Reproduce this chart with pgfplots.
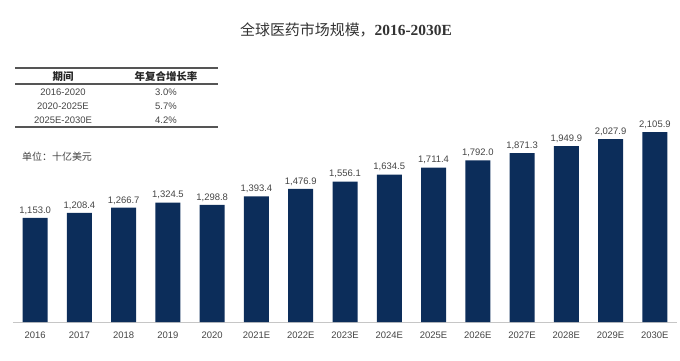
\documentclass[border=0pt]{standalone}
\usepackage{pgfplots}
\pgfplotsset{compat=1.18}
\usepackage{fontspec}
\setmainfont{Liberation Sans}
\newfontfamily\cjk{Noto Sans CJK SC}
\newfontfamily\serif{Liberation Serif}
\definecolor{barblue}{HTML}{0C2D5A}
\definecolor{labelgray}{HTML}{444444}
\definecolor{rulegray}{HTML}{555555}
\begin{document}
\begin{tikzpicture}
\useasboundingbox (-13bp,-39bp) rectangle (667bp,322bp);
\begin{axis}[
  at={(0,0)}, anchor=south west,
  scale only axis, width=664bp, height=216.5bp,
  xmin=-0.5, xmax=14.5, ymin=0, ymax=2400,
  hide y axis,
  axis x line*=bottom,
  x axis line style={color=gray!45, line width=0.8bp, -},
  xtick=data,
  xticklabels={2016,2017,2018,2019,2020,2021E,2022E,2023E,2024E,2025E,2026E,2027E,2028E,2029E,2030E},
  major tick length=0pt,
  x tick label style={font=\fontsize{9.5}{11}\selectfont, color=labelgray, yshift=-6bp},
  ytick=\empty,
  ybar, bar width=25bp, bar shift=0pt,
  nodes near coords={\pgfmathprintnumber[fixed,fixed zerofill,precision=1,1000 sep={,},assume math mode=true]{\pgfplotspointmeta}},
  every node near coord/.append style={font=\fontsize{9.5}{11}\selectfont, color=labelgray},
  clip=false,
]
\addplot[fill=barblue, draw=none] coordinates {
(0,1153.0) (1,1208.4) (2,1266.7) (3,1324.5) (4,1298.8) (5,1393.4) (6,1476.9) (7,1556.1)
(8,1634.5) (9,1711.4) (10,1792.0) (11,1871.3) (12,1949.9) (13,2027.9) (14,2105.9)};
\end{axis}
% title
\node[color=black!80] at (333bp,292bp) {{\cjk\fontsize{15}{17}\selectfont 全球医药市场规模，}{\serif\bfseries\fontsize{15.5}{17}\selectfont 2016-2030E}};
% table
\draw[rulegray, line width=1.3bp] (2bp,254bp) -- (205bp,254bp);
\draw[rulegray, line width=1.3bp] (2bp,238bp) -- (205bp,238bp);
\draw[rulegray, line width=1.3bp] (2bp,195bp) -- (205bp,195bp);
\node[color=black!85] at (50bp,245.5bp) {\cjk\bfseries\fontsize{10.5}{12}\selectfont 期间};
\node[color=black!85] at (153bp,245.5bp) {\cjk\bfseries\fontsize{10.5}{12}\selectfont 年复合增长率};
\begin{scope}[every node/.style={color=labelgray, font=\fontsize{9.5}{11}\selectfont}]
\node at (50bp,230bp) {2016-2020};
\node at (50bp,215.5bp) {2020-2025E};
\node at (50bp,201.5bp) {2025E-2030E};
\node at (153bp,230bp) {3.0\%};
\node at (153bp,215.5bp) {5.7\%};
\node at (153bp,201.5bp) {4.2\%};
\end{scope}
\node[anchor=west, color=labelgray, inner sep=0pt] at (9bp,165bp) {\cjk\fontsize{10}{12}\selectfont 单位：十亿美元};
\end{tikzpicture}
\end{document}
